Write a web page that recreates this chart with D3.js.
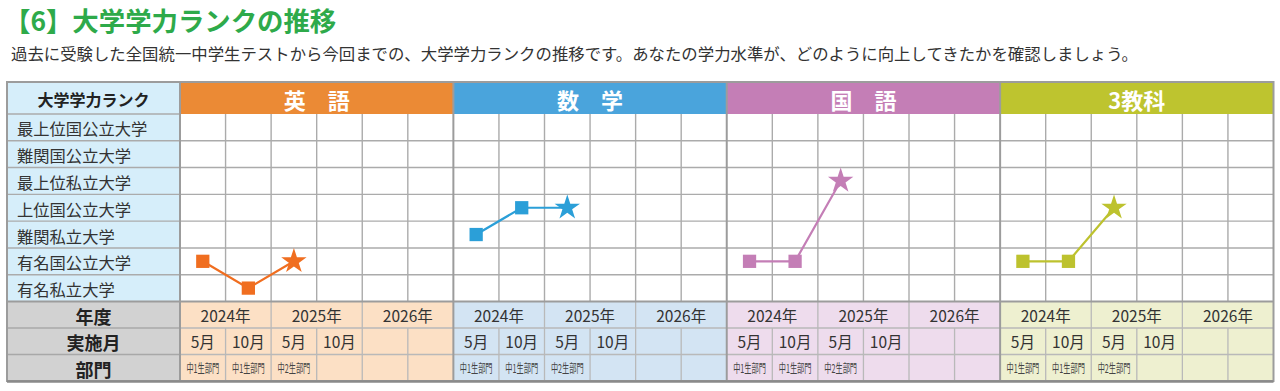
<!DOCTYPE html>
<html><head><meta charset="utf-8">
<script src="https://cdn.jsdelivr.net/npm/d3@7"></script>
<style>body{margin:0;background:#fff;} svg{display:block}</style>
</head><body><svg id="c" width="1280" height="391"></svg>
<script>
// ---- data ----
const ranks = ["最上位国公立大学","難関国公立大学","最上位私立大学","上位国公立大学","難関私立大学","有名国公立大学","有名私立大学"];
const subjects = ["英　語","数　学","国　語","3教科"];
const slots = ["s1","s2","s3","s4","s5","s6"];
const years = ["2024年","2025年","2026年"];
const months = ["5月","10月","5月","10月","",""];
const divisions = ["中1生部門","中1生部門","中2生部門","","",""];
const bottomLabels = ["年度","実施月","部門"];
const englishRanks = ["有名国公立大学","有名私立大学","有名国公立大学"];
const mathRanks = ["難関私立大学","上位国公立大学","上位国公立大学"];
const japaneseRanks = ["有名国公立大学","有名国公立大学","最上位私立大学"];
const threeSubjRanks = ["有名国公立大学","有名国公立大学","上位国公立大学"];
const seriesList = [englishRanks, mathRanks, japaneseRanks, threeSubjRanks];
const titleText = "【6】大学学力ランクの推移";
const subText = "過去に受験した全国統一中学生テストから今回までの、大学学力ランクの推移です。あなたの学力水準が、どのように向上してきたかを確認しましょう。";
const cornerLabel = "大学学力ランク";

// ---- styles ----
const headColors = ["#EB8A35","#4AA4DC","#C47EB6","#BEC42F"];
const markColors = ["#F06E20","#2B9FD8","#C47EB6","#BDC22E"];
const footColors = ["#FCE0C5","#D3E4F3","#EEDCED","#EEF0D0"];
const FONT = "'Noto Sans CJK JP','Noto Sans',sans-serif";

const svg = d3.select("#c").style("font-family", FONT);

const X0 = 7, X1 = 180, X2 = 1273.5;
const HEAD_T = 82, GRID_T = 114, GRID_B = 301.5, FOOT_B = 381;
const panelX = d3.scaleBand().domain(subjects).range([X1, X2]);
const y = d3.scaleBand().domain(ranks).range([GRID_T, GRID_B]);
const yFoot = d3.scaleBand().domain(bottomLabels).range([GRID_B, FOOT_B]);

// title
svg.append("text").attr("x", 4).attr("y", 31).attr("fill", "#2EAA4A")
  .attr("font-size", 26.4).attr("font-weight", "bold").text(titleText);
svg.append("text").attr("x", 11).attr("y", 60).attr("fill", "#333")
  .attr("font-size", 16.4).text(subText);

// left column backgrounds
svg.append("rect").attr("x", X0).attr("y", HEAD_T).attr("width", X1 - X0).attr("height", GRID_B - HEAD_T).attr("fill", "#D6EEFA");
svg.append("rect").attr("x", X0).attr("y", GRID_B).attr("width", X1 - X0).attr("height", FOOT_B - GRID_B).attr("fill", "#D2D2D2");

const gridColor = "#ABABAB";
const footLine = "#B9B9B9";

subjects.forEach((s, i) => {
  const px = panelX(s), pw = panelX.bandwidth();
  const x = d3.scaleBand().domain(slots).range([px, px + pw]);
  const g = svg.append("g");
  // header band
  g.append("rect").attr("x", px).attr("y", HEAD_T).attr("width", pw).attr("height", GRID_T - HEAD_T).attr("fill", headColors[i]);
  g.append("text").attr("x", px + pw / 2).attr("y", (HEAD_T + GRID_T) / 2 + 1)
    .attr("text-anchor", "middle").attr("dominant-baseline", "central")
    .attr("fill", "#fff").attr("font-size", 22).attr("font-weight", "bold").text(s);
  // grid background
  g.append("rect").attr("x", px).attr("y", GRID_T).attr("width", pw).attr("height", GRID_B - GRID_T).attr("fill", "#fff");
  // foot background
  g.append("rect").attr("x", px).attr("y", GRID_B).attr("width", pw).attr("height", FOOT_B - GRID_B).attr("fill", footColors[i]);
  // grid lines
  slots.slice(1).forEach(k => {
    g.append("line").attr("x1", x(k)).attr("x2", x(k)).attr("y1", GRID_T).attr("y2", GRID_B).attr("stroke", gridColor).attr("stroke-width", 1.4);
  });
  ranks.slice(1).forEach(r => {
    g.append("line").attr("x1", px).attr("x2", px + pw).attr("y1", y(r)).attr("y2", y(r)).attr("stroke", gridColor).attr("stroke-width", 1.4);
  });
  // foot lines
  g.append("line").attr("x1", px).attr("x2", px + pw).attr("y1", yFoot(bottomLabels[1])).attr("y2", yFoot(bottomLabels[1])).attr("stroke", footLine).attr("stroke-width", 1.3);
  g.append("line").attr("x1", px).attr("x2", px + pw).attr("y1", yFoot(bottomLabels[2])).attr("y2", yFoot(bottomLabels[2])).attr("stroke", footLine).attr("stroke-width", 1.3);
  slots.slice(1).forEach((k, j) => {
    const y1 = (j % 2 === 1) ? GRID_B : yFoot(bottomLabels[1]);
    g.append("line").attr("x1", x(k)).attr("x2", x(k)).attr("y1", y1).attr("y2", FOOT_B).attr("stroke", footLine).attr("stroke-width", 1.3);
  });
  // foot texts
  years.forEach((yr, j) => {
    const cx = x(slots[2 * j]) + x.bandwidth();
    g.append("text").attr("x", cx).attr("y", yFoot(bottomLabels[0]) + yFoot.bandwidth() / 2)
      .attr("text-anchor", "middle").attr("dominant-baseline", "central")
      .attr("fill", "#333").attr("font-size", 15.5).text(yr);
  });
  months.forEach((m, j) => {
    if (!m) return;
    g.append("text").attr("x", x(slots[j]) + x.bandwidth() / 2).attr("y", yFoot(bottomLabels[1]) + yFoot.bandwidth() / 2)
      .attr("text-anchor", "middle").attr("dominant-baseline", "central")
      .attr("fill", "#333").attr("font-size", 15.5).text(m);
  });
  divisions.forEach((d, j) => {
    if (!d) return;
    const cx = x(slots[j]) + x.bandwidth() / 2, cy = yFoot(bottomLabels[2]) + yFoot.bandwidth() / 2;
    g.append("text").attr("x", 0).attr("y", 0)
      .attr("transform", `translate(${cx},${cy}) scale(0.6,1)`)
      .attr("text-anchor", "middle").attr("dominant-baseline", "central")
      .attr("fill", "#444").attr("font-size", 12).text(d);
  });
  // series
  const data = seriesList[i];
  const pts = data.map((r, j) => [x(slots[j]) + x.bandwidth() / 2, y(r) + y.bandwidth() / 2]);
  g.append("path").attr("d", d3.line()(pts)).attr("fill", "none").attr("stroke", markColors[i]).attr("stroke-width", 2.2);
  pts.forEach((p, j) => {
    const isLast = j === pts.length - 1;
    g.append("path")
      .attr("d", d3.symbol().type(isLast ? d3.symbolStar : d3.symbolSquare).size(isLast ? 200 : 176)())
      .attr("transform", `translate(${p[0]},${p[1]})`)
      .attr("fill", markColors[i]);
  });
});

// left column grid lines and labels
ranks.slice(1).forEach(r => {
  svg.append("line").attr("x1", X0).attr("x2", X1).attr("y1", y(r)).attr("y2", y(r)).attr("stroke", gridColor).attr("stroke-width", 1.4);
});
svg.append("line").attr("x1", X0).attr("x2", X1).attr("y1", GRID_T).attr("y2", GRID_T).attr("stroke", gridColor).attr("stroke-width", 1.4);
bottomLabels.slice(1).forEach(b => {
  svg.append("line").attr("x1", X0).attr("x2", X1).attr("y1", yFoot(b)).attr("y2", yFoot(b)).attr("stroke", "#A8A8A8").attr("stroke-width", 1.4);
});
svg.append("text").attr("x", (X0 + X1) / 2).attr("y", (HEAD_T + GRID_T) / 2 + 1)
  .attr("text-anchor", "middle").attr("dominant-baseline", "central")
  .attr("fill", "#222").attr("font-size", 16).attr("font-weight", "bold").text(cornerLabel);
ranks.forEach(r => {
  svg.append("text").attr("x", 17).attr("y", y(r) + y.bandwidth() / 2 + 1)
    .attr("dominant-baseline", "central").attr("fill", "#333").attr("font-size", 16.3).text(r);
});
bottomLabels.forEach(b => {
  svg.append("text").attr("x", (X0 + X1) / 2).attr("y", yFoot(b) + yFoot.bandwidth() / 2 + 1)
    .attr("text-anchor", "middle").attr("dominant-baseline", "central")
    .attr("fill", "#222").attr("font-size", 18).attr("font-weight", "bold").text(b);
});

// heavy borders
const border = "#9C9C9C";
[X1, ...subjects.slice(1).map(s => panelX(s))].forEach(xx => {
  svg.append("line").attr("x1", xx).attr("x2", xx).attr("y1", HEAD_T).attr("y2", FOOT_B).attr("stroke", border).attr("stroke-width", 2);
});
svg.append("line").attr("x1", X0).attr("x2", X2).attr("y1", GRID_B).attr("y2", GRID_B).attr("stroke", border).attr("stroke-width", 2.2);
svg.append("rect").attr("x", X0).attr("y", HEAD_T).attr("width", X2 - X0).attr("height", FOOT_B - HEAD_T)
  .attr("fill", "none").attr("stroke", border).attr("stroke-width", 2);
svg.append("line").attr("x1", X0).attr("x2", X2).attr("y1", FOOT_B + 0.5).attr("y2", FOOT_B + 0.5).attr("stroke", "#8A8A8A").attr("stroke-width", 2.5);
</script></body></html>
